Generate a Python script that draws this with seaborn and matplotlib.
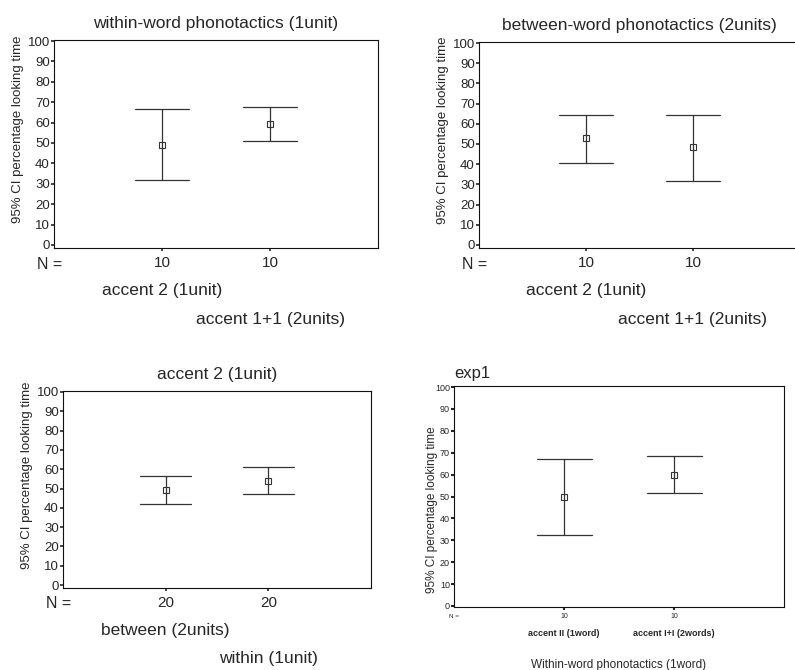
import pandas as pd
import matplotlib.pyplot as plt
import seaborn as sns

# Valores: limite inferior IC95, media, limite superior IC95
ylabel = "95% CI percentage looking time"

title_1 = "within-word phonotactics (1unit)"
cats_1 = ["accent 2 (1unit)", "accent 1+1 (2units)"]
n_1 = [10, 10]
low_1 = [31.8, 51.0]
mean_1 = [49.2, 59.2]
high_1 = [66.6, 67.6]

title_2 = "between-word phonotactics (2units)"
cats_2 = ["accent 2 (1unit)", "accent 1+1 (2units)"]
n_2 = [10, 10]
low_2 = [40.8, 31.8]
mean_2 = [52.9, 48.5]
high_2 = [64.4, 64.4]

title_3 = "accent 2 (1unit)"
cats_3 = ["between (2units)", "within (1unit)"]
n_3 = [20, 20]
low_3 = [42.2, 47.0]
mean_3 = [49.4, 54.0]
high_3 = [56.4, 61.4]

title_4 = "exp1"
cats_4 = ["accent II (1word)", "accent I+I (2words)"]
n_4 = [10, 10]
low_4 = [32.2, 51.5]
mean_4 = [49.8, 59.9]
high_4 = [67.2, 68.4]
xlabel_4 = "Within-word phonotactics (1word)"

sns.set_style("white")
plt.rcParams["font.family"] = ["Liberation Sans", "DejaVu Sans"]

W, H = 795, 670
fig = plt.figure(figsize=(W / 100, H / 100), dpi=100)


def make_df(cats, low, mean, high):
    # tres valores por grupo: la mediana es la media, el rango es el IC
    rows = []
    for c, lo, m, hi in zip(cats, low, mean, high):
        for v in (lo, m, hi):
            rows.append({"group": c, "value": v})
    return pd.DataFrame(rows)


def panel(box, title, cats, n, low, mean, high, small=False):
    l, t, r, b = box
    ax = fig.add_axes([l / W, 1 - b / H, (r - l) / W, (b - t) / H])
    df = make_df(cats, low, mean, high)
    sns.pointplot(data=df, x="group", y="value", estimator="median",
                  errorbar=("pi", 100), capsize=0.5, color="#333333",
                  markers="s", linestyles="none", markersize=4 if not small else 4.5,
                  markerfacecolor="white", markeredgewidth=0.8,
                  err_kws={"linewidth": 0.9}, ax=ax)
    ax.set_xlim(-1, 2)
    ax.set_ylim(-1.5 if not small else -0.5, 100.5)
    ax.set_yticks(range(0, 101, 10))
    ax.set_xticks([0, 1])
    ax.set_xticklabels([str(v) for v in n])
    ax.set_xlabel("")
    for s in ax.spines.values():
        s.set_color("#111111")
        s.set_linewidth(0.8)

    axw = r - l
    if not small:
        ax.set_title(title, fontsize=12.5, pad=8.5)
        ax.tick_params(axis="y", labelsize=9.5, length=2, width=1.2, pad=1, direction="out", left=True)
        ax.tick_params(axis="x", labelsize=11, length=2, width=1.2, pad=4, direction="out", bottom=True)
        ax.set_ylabel(ylabel, fontsize=9.5)
        ax.yaxis.label.set_va("center")
        ax.yaxis.set_label_coords(-36 / axw, 0.57)
        ax.annotate("N =", xy=(0, 0), xycoords="axes fraction", xytext=(-4, -16),
                    textcoords="offset pixels", ha="center", va="center", fontsize=11.5)
        for i, (c, dy) in enumerate(zip(cats, (-42, -71))):
            ax.annotate(c, xy=(i, 0), xycoords=ax.get_xaxis_transform(), xytext=(0, dy),
                        textcoords="offset pixels", ha="center", va="center", fontsize=12.5)
    else:
        ax.set_title(title, fontsize=12, pad=6, loc="left")
        ax.tick_params(axis="y", labelsize=6.5, length=2, width=1.5, pad=1, direction="out", left=True)
        ax.tick_params(axis="x", labelsize=5, length=2, width=1.5, pad=2, direction="out", bottom=True)
        ax.set_ylabel(ylabel, fontsize=8.5)
        ax.yaxis.label.set_va("center")
        ax.yaxis.set_label_coords(-22 / axw, 0.44)
        ax.annotate("N =", xy=(0, 0), xycoords="axes fraction", xytext=(0, -9),
                    textcoords="offset pixels", ha="center", va="center", fontsize=4.5)
        for i, c in enumerate(cats):
            ax.annotate(c, xy=(i, 0), xycoords=ax.get_xaxis_transform(), xytext=(0, -26),
                        textcoords="offset pixels", ha="center", va="center",
                        fontsize=6.5, fontweight="bold")
        ax.annotate(xlabel_4, xy=(0.5, 0), xycoords="axes fraction", xytext=(0, -58),
                    textcoords="offset pixels", ha="center", va="center", fontsize=8.5)
    return ax


panel((54, 40, 378, 248), title_1, cats_1, n_1, low_1, mean_1, high_1)
panel((479, 42, 800, 248), title_2, cats_2, n_2, low_2, mean_2, high_2)
panel((63, 391, 371, 588), title_3, cats_3, n_3, low_3, mean_3, high_3)
panel((454, 386, 784, 607), title_4, cats_4, n_4, low_4, mean_4, high_4, small=True)

fig.savefig("out.png", dpi=100, facecolor="white")
